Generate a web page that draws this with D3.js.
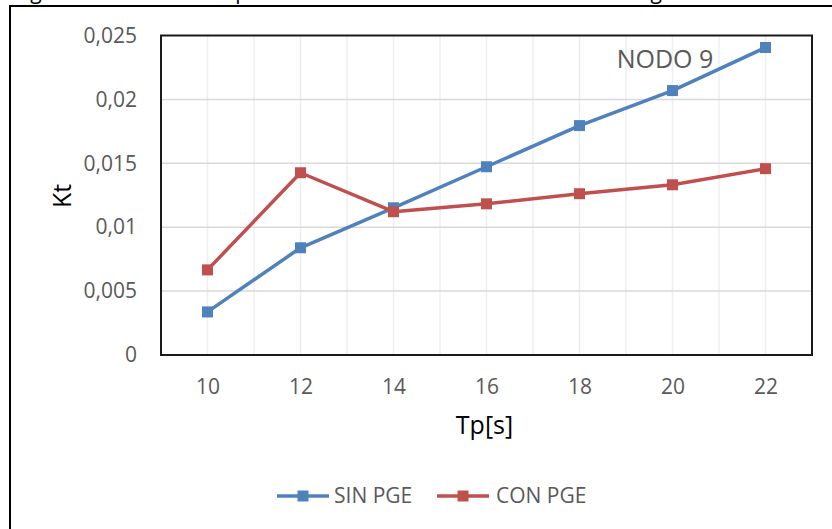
<!DOCTYPE html>
<html>
<head>
<meta charset="utf-8">
<script src="https://cdn.jsdelivr.net/npm/d3@7"></script>
<style>
  html, body { margin: 0; padding: 0; background: #fff; }
  svg { display: block; font-family: "Open Sans", sans-serif; }
</style>
</head>
<body>
<svg id="chart" width="832" height="529"></svg>
<script>
// ---- data ----
const categories = [10, 12, 14, 16, 18, 20, 22];
const sinPGE = [0.00337, 0.00839, 0.01152, 0.01473, 0.01795, 0.02069, 0.02406];
const conPGE = [0.00666, 0.01426, 0.01121, 0.01183, 0.01262, 0.01332, 0.01458];
const seriesNames = ["SIN PGE", "CON PGE"];
const seriesColors = ["#4F81BD", "#C0504D"];
const yTickValues = [0, 0.005, 0.01, 0.015, 0.02, 0.025];
const yTickLabels = ["0", "0,005", "0,01", "0,015", "0,02", "0,025"];
const xTickValues = [10, 12, 14, 16, 18, 20, 22];
const xGridValues = [10, 11, 12, 13, 14, 15, 16, 17, 18, 19, 20, 21, 22];
const xDomain = [9, 23];
const yDomain = [0, 0.025];

const svg = d3.select("#chart");
const W = 832, H = 529;
const plot = { left: 161, top: 35.5, right: 812, bottom: 355 };

const x = d3.scaleLinear().domain(xDomain).range([plot.left, plot.right]);
const y = d3.scaleLinear().domain(yDomain).range([plot.bottom, plot.top]);

// clipped caption fragments above the frame
const cap = svg.append("g").attr("font-size", 21).attr("fill", "#000");
cap.append("text").attr("x", 14).attr("y", -1).text("Figura 9.");
cap.append("text").attr("x", 190).attr("y", -1).text("Comparación del coeficiente Kt en el Nodo 9 según");

// outer frame
svg.append("rect").attr("x", 10).attr("y", 6).attr("width", 840).attr("height", 540)
  .attr("fill", "none").attr("stroke", "#000").attr("stroke-width", 2);

// gridlines
svg.append("g").selectAll("line").data(xGridValues).join("line")
  .attr("x1", d => x(d)).attr("x2", d => x(d))
  .attr("y1", plot.top).attr("y2", plot.bottom)
  .attr("stroke", "#efefef").attr("stroke-width", 1.5);
svg.append("g").selectAll("line").data(yTickValues.slice(1, -1)).join("line")
  .attr("x1", plot.left).attr("x2", plot.right)
  .attr("y1", d => y(d)).attr("y2", d => y(d))
  .attr("stroke", "#d9d9d9").attr("stroke-width", 1.5);

// plot frame
svg.append("rect").attr("x", plot.left).attr("y", plot.top)
  .attr("width", plot.right - plot.left).attr("height", plot.bottom - plot.top)
  .attr("fill", "none").attr("stroke", "#1a1a1a").attr("stroke-width", 2);

// axes
const yAxis = d3.axisLeft(y).tickValues(yTickValues)
  .tickFormat((d, i) => yTickLabels[i]).tickSize(0).tickPadding(24);
const gy = svg.append("g").attr("transform", `translate(${plot.left},0)`).call(yAxis);
gy.select(".domain").remove();
gy.selectAll("text").attr("font-size", 21).attr("fill", "#595959")
  .attr("font-family", "Open Sans, sans-serif");

const xAxis = d3.axisBottom(x).tickValues(xTickValues).tickFormat(d => d).tickSize(0).tickPadding(24);
const gx = svg.append("g").attr("transform", `translate(0,${plot.bottom})`).call(xAxis);
gx.select(".domain").remove();
gx.selectAll("text").attr("font-size", 21).attr("fill", "#595959")
  .attr("font-family", "Open Sans, sans-serif");

// axis titles
svg.append("text").attr("x", (plot.left + plot.right) / 2 - 2).attr("y", 434)
  .attr("text-anchor", "middle").attr("font-size", 25).attr("fill", "#000").text("Tp[s]");
svg.append("text").attr("transform", "translate(71,196) rotate(-90)")
  .attr("text-anchor", "middle").attr("font-size", 25).attr("fill", "#000").text("Kt");

// annotation
svg.append("text").attr("x", 665).attr("y", 68).attr("text-anchor", "middle")
  .attr("font-size", 25).attr("fill", "#595959").text("NODO 9");

// series
const series = [sinPGE, conPGE];
const line = d3.line().x((d, i) => x(categories[i])).y(d => y(d));
const ms = 11;
series.forEach((vals, si) => {
  const g = svg.append("g");
  g.append("path").datum(vals).attr("d", line).attr("fill", "none")
    .attr("stroke", seriesColors[si]).attr("stroke-width", 3.5).attr("stroke-linejoin", "round");
  g.selectAll("rect").data(vals).join("rect")
    .attr("x", (d, i) => x(categories[i]) - ms / 2).attr("y", d => y(d) - ms / 2)
    .attr("width", ms).attr("height", ms).attr("fill", seriesColors[si]);
});

// legend
const legendItems = [{ x0: 277, tx: 334 }, { x0: 437, tx: 496 }];
const ly = 496;
legendItems.forEach((it, i) => {
  const g = svg.append("g");
  g.append("line").attr("x1", it.x0).attr("x2", it.x0 + 52).attr("y1", ly).attr("y2", ly)
    .attr("stroke", seriesColors[i]).attr("stroke-width", 3.5);
  g.append("rect").attr("x", it.x0 + 26 - ms / 2).attr("y", ly - ms / 2)
    .attr("width", ms).attr("height", ms).attr("fill", seriesColors[i]);
  g.append("text").attr("x", it.tx).attr("y", ly).attr("dy", "0.35em")
    .attr("font-size", 21).attr("fill", "#595959").text(seriesNames[i]);
});
</script>
</body>
</html>
